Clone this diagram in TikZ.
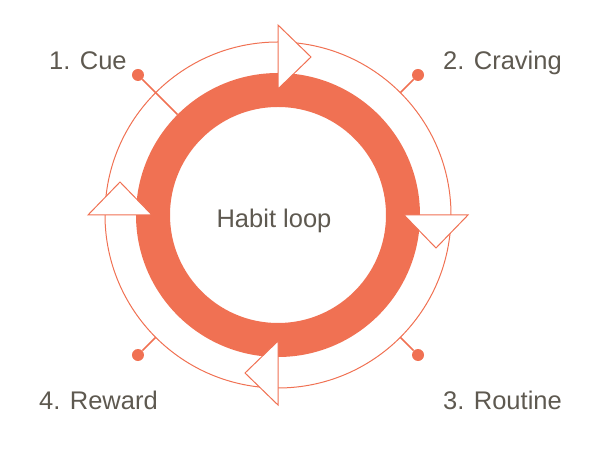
\documentclass[tikz,border=0pt]{standalone}
\usepackage{fontspec}
\setmainfont{Liberation Sans}
\usetikzlibrary{positioning}

\definecolor{habit}{HTML}{F07153}
\definecolor{ink}{HTML}{5E5950}

\begin{document}
\begin{tikzpicture}[x=1pt, y=1pt, every node/.style={font=\fontsize{25.5}{30}\selectfont, text=ink, inner sep=0pt},
    ring/.style={draw=habit, line width=34pt},
    track/.style={draw=habit, line width=1pt},
    arrowtri/.style={draw=habit, fill=white, line width=1pt, line join=miter},
    pindot/.style={circle, fill=habit, inner sep=0pt, minimum size=12pt},
    pinline/.style={draw=habit, line width=1.6pt}]

        \useasboundingbox (0,0) rectangle (606,468);
        \coordinate (c) at (278,253);

        % the loop itself
        \draw[ring] (c) circle (125);
        \draw[track] (c) circle (173);

        % clockwise heads on the track
        \foreach \a in {90,0,-90,180}
                \draw[arrowtri, shift={(c)}, rotate=\a] (126,0) -- (190,0) -- (158,-33) -- cycle;

        % pins
        \begin{scope}[shift={(c)}]
                \node (d1) [pindot] at (135:198) {};
                \node (d2) [pindot] at (45:198) {};
                \node (d3) [pindot] at (-45:198) {};
                \node (d4) [pindot] at (-135:198) {};
                \coordinate (e1) at (135:142);
                \coordinate (e2) at (45:173);
                \coordinate (e3) at (-45:173);
                \coordinate (e4) at (-135:173);
        \end{scope}
        \draw[pinline] (e1) -- (d1);
        \draw[pinline] (e2) -- (d2);
        \draw[pinline] (e3) -- (d3);
        \draw[pinline] (e4) -- (d4);

        \node (hl) [anchor=base] at (274,240) {Habit loop};
        \node (l1) [anchor=base west] at (49,398) {1. Cue};
        \node (l2) [anchor=base west] at (443,398) {2. Craving};
        \node (l3) [anchor=base west] at (443,58) {3. Routine};
        \node (l4) [anchor=base west] at (39,58) {4. Reward};
\end{tikzpicture}
\end{document}
